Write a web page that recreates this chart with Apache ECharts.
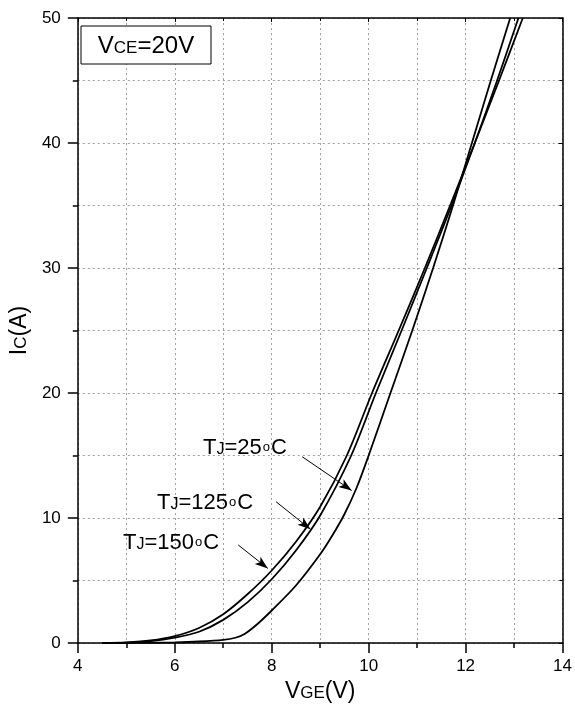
<!DOCTYPE html>
<html>
<head>
<meta charset="utf-8">
<script src="https://cdn.jsdelivr.net/npm/echarts@6/dist/echarts.min.js"></script>
<style>
  html, body { margin: 0; padding: 0; background: #fff; }
  #chart { width: 575px; height: 708px; }
</style>
</head>
<body>
<div id="chart"></div>
<script>
// transfer characteristics, Ic vs Vge
var vge25  = [4.5, 5.5, 6.0, 6.5, 7.0, 7.25, 7.44, 7.7, 8.0, 8.5, 9.0, 9.25, 9.5, 9.75, 10.0, 10.45, 10.9, 11.33, 11.74, 12.13, 12.52, 12.92];
var ic25   = [0, 0.02, 0.05, 0.12, 0.25, 0.42, 0.72, 1.5, 2.6, 4.6, 7.1, 8.6, 10.3, 12.4, 15, 20, 25, 30, 35, 40, 45, 50];

var vge125 = [4.5, 5.0, 5.5, 6.0, 6.5, 7.0, 7.5, 8.0, 8.5, 9.0, 9.64, 10.15, 10.68, 11.2, 11.71, 12.19, 12.65, 13.09];
var ic125  = [0, 0.03, 0.15, 0.43, 0.9, 1.85, 3.25, 5.1, 7.4, 10.2, 15, 20, 25, 30, 35, 40, 45, 50];

var vge150 = [4.5, 5.0, 5.5, 6.0, 6.5, 7.0, 7.5, 8.0, 8.5, 9.0, 9.55, 10.07, 10.62, 11.16, 11.68, 12.19, 12.69, 13.18];
var ic150  = [0, 0.05, 0.2, 0.55, 1.2, 2.3, 3.9, 5.8, 8.1, 10.9, 15, 20, 25, 30, 35, 40, 45, 50];

// arrows from the labels to the curves: [vge, ic] start and end
var arrow25  = [[8.63, 14.9], [9.65, 12.2]];
var arrow125 = [[8.09, 11.3], [8.80, 9.1]];
var arrow150 = [[7.31, 7.84], [7.92, 5.97]];

var xTicks = [4, 14, 2];   // min, max, step
var yTicks = [0, 50, 10];

var font = 'Arial, "Liberation Sans", sans-serif';

function pairs(xs, ys) {
  var out = [];
  for (var i = 0; i < xs.length; i++) out.push([xs[i], ys[i]]);
  return out;
}

function arrowLine(a) {
  return {
    silent: true,
    symbol: ['none', 'arrow'],
    symbolSize: [7, 13],
    lineStyle: { color: '#000', width: 1, type: 'solid' },
    label: { show: false },
    data: [[{ coord: a[0] }, { coord: a[1] }]]
  };
}

function curve(name, xs, ys, a) {
  return {
    name: name,
    type: 'line',
    data: pairs(xs, ys),
    symbol: 'none',
    smooth: 0.3,
    lineStyle: { color: '#000', width: 1.8 },
    markLine: arrowLine(a),
    z: 5
  };
}

function tempLabel(x, y, t) {
  return {
    type: 'text', z: 101,
    style: {
      x: x, y: y, align: 'left', verticalAlign: 'middle',
      text: '{a|T}{b|J}{a|=' + t + '}{c|o}{a|C}',
      rich: {
        a: { fontSize: 22, fontFamily: font, fill: '#000', verticalAlign: 'bottom' },
        b: { fontSize: 16, fontFamily: font, fill: '#000', verticalAlign: 'bottom', padding: [0, 0, 1, 0] },
        c: { fontSize: 13, fontFamily: font, fill: '#000', verticalAlign: 'bottom', padding: [0, 1, 5, 1] }
      }
    }
  };
}

var black = { color: '#000', width: 1.5 };
var grid = { color: '#a0a0a0', width: 1, type: [2, 3] };

var myChart = echarts.init(document.getElementById('chart'));

var option = {
  animation: false,
  backgroundColor: '#fff',
  grid: { left: 73, right: 12, top: 18, bottom: 65 },
  xAxis: [{
    type: 'value', min: xTicks[0], max: xTicks[1], interval: xTicks[2],
    name: '{a|V}{b|GE}{a|(V)}', nameLocation: 'middle', nameGap: 35,
    nameTextStyle: { rich: {
      a: { fontSize: 23, fontFamily: font, color: '#000', verticalAlign: 'bottom' },
      b: { fontSize: 17, fontFamily: font, color: '#000', verticalAlign: 'bottom', padding: [0, 0, 1, 0] }
    } },
    axisLine: { onZero: false, lineStyle: black },
    axisTick: { length: 10, lineStyle: black },
    minorTick: { show: true, splitNumber: 2, length: 5, lineStyle: black },
    axisLabel: { color: '#000', fontSize: 17, fontFamily: font, margin: 15 },
    splitLine: { show: true, lineStyle: grid },
    minorSplitLine: { show: true, lineStyle: grid }
  }, {
    type: 'value', position: 'top', min: xTicks[0], max: xTicks[1], interval: xTicks[2],
    axisLine: { onZero: false, lineStyle: black },
    axisTick: { inside: true, length: 4, lineStyle: { color: '#000', width: 1 } },
    minorTick: { show: true, splitNumber: 2, length: 3, lineStyle: { color: '#000', width: 1 } },
    axisLabel: { show: false },
    splitLine: { show: false }
  }],
  yAxis: [{
    type: 'value', min: yTicks[0], max: yTicks[1], interval: yTicks[2],
    name: '{a|I}{b|C}{a|(A)}', nameLocation: 'middle', nameGap: 36,
    nameTextStyle: { rich: {
      a: { fontSize: 23, fontFamily: font, color: '#000', verticalAlign: 'bottom' },
      b: { fontSize: 17, fontFamily: font, color: '#000', verticalAlign: 'bottom', padding: [0, 0, 1, 0] }
    } },
    axisLine: { onZero: false, lineStyle: black },
    axisTick: { length: 10, lineStyle: black },
    minorTick: { show: true, splitNumber: 2, length: 5, lineStyle: black },
    axisLabel: { color: '#000', fontSize: 17, fontFamily: font, margin: 17 },
    splitLine: { show: true, lineStyle: grid },
    minorSplitLine: { show: true, lineStyle: grid }
  }, {
    type: 'value', position: 'right', min: yTicks[0], max: yTicks[1], interval: yTicks[2],
    axisLine: { onZero: false, lineStyle: black },
    axisTick: { inside: true, length: 4, lineStyle: { color: '#000', width: 1 } },
    minorTick: { show: true, splitNumber: 2, length: 3, lineStyle: { color: '#000', width: 1 } },
    axisLabel: { show: false },
    splitLine: { show: false }
  }],
  series: [
    curve('TJ=25°C', vge25, ic25, arrow25),
    curve('TJ=125°C', vge125, ic125, arrow125),
    curve('TJ=150°C', vge150, ic150, arrow150)
  ],
  graphic: [
    {
      type: 'rect', z: 100,
      shape: { x: 81, y: 26, width: 130, height: 38 },
      style: { fill: '#fff', stroke: '#000', lineWidth: 1 }
    },
    {
      type: 'text', z: 101,
      style: {
        x: 146, y: 46, align: 'center', verticalAlign: 'middle',
        text: '{a|V}{b|CE}{a|=20V}',
        rich: {
          a: { fontSize: 24, fontFamily: font, fill: '#000', verticalAlign: 'bottom' },
          b: { fontSize: 17, fontFamily: font, fill: '#000', verticalAlign: 'bottom', padding: [0, 0, 1, 0] }
        }
      }
    },
    tempLabel(203, 448, '25'),
    tempLabel(157, 503, '125'),
    tempLabel(123, 543, '150')
  ]
};

myChart.setOption(option);
</script>
</body>
</html>
